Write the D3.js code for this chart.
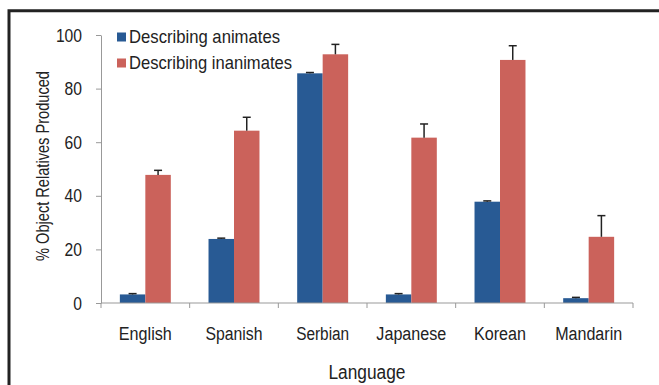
<!DOCTYPE html>
<html><head><meta charset="utf-8">
<script src="https://cdn.jsdelivr.net/npm/d3@7"></script>
<style>body{margin:0;background:#fff}svg{display:block}text{font-family:"Liberation Sans",Arial,sans-serif;fill:#222}</style>
</head><body><svg id="c" width="659" height="385"></svg>
<script>
const categories = ["English","Spanish","Serbian","Japanese","Korean","Mandarin"];
const categoryLabelWidths = [53, 57, 53, 70, 52, 67];
const seriesNames = ["Describing animates","Describing inanimates"];
const animates = [3.2, 23.9, 85.7, 3.2, 37.8, 1.8];
const inanimates = [47.8, 64.3, 92.8, 61.7, 90.7, 24.7];
const animatesErr = [0.3, 0.3, 0.3, 0.3, 0.3, 0.3];
const inanimatesErr = [1.7, 5.0, 3.7, 5.1, 5.3, 7.9];
const yTicks = [0, 20, 40, 60, 80, 100];
const colors = ["#285a94", "#cb625b"];

const svg = d3.select("#c");
const L = 101, R = 633, T = 35, B = 303;
const x0 = d3.scaleBand().domain(categories).range([L, R]).padding(0);
const x1 = d3.scaleBand().domain([0,1]).range([0, x0.bandwidth()]).paddingInner(0).paddingOuter(0.74);
const y = d3.scaleLinear().domain([0,100]).range([B, T]);

// frame
svg.append("path").attr("d","M9,385V10.8H659").attr("fill","none").attr("stroke","#222").attr("stroke-width",3);

// bars
const data = categories.map((c,i)=>({c, vals:[animates[i], inanimates[i]], errs:[animatesErr[i], inanimatesErr[i]]}));
const g = svg.append("g");
data.forEach(d=>{
  d.vals.forEach((v,k)=>{
    const bx = x0(d.c) + x1(k);
    g.append("rect").attr("x", bx).attr("width", x1.bandwidth()).attr("y", y(v)).attr("height", y(0)-y(v)).attr("fill", colors[k]);
    const cx = bx + x1.bandwidth()/2;
    const top = y(v + d.errs[k]);
    g.append("line").attr("x1",cx).attr("x2",cx).attr("y1",y(v)).attr("y2",top).attr("stroke","#222").attr("stroke-width",1.5);
    g.append("line").attr("x1",cx-4).attr("x2",cx+4).attr("y1",top).attr("y2",top).attr("stroke","#222").attr("stroke-width",1.5);
  });
});

// y axis
const ya = svg.append("g").attr("transform",`translate(${L},0)`)
  .call(d3.axisLeft(y).tickValues(yTicks).tickSize(5).tickSizeOuter(0).tickPadding(14));
ya.select(".domain").attr("stroke","#999");
ya.selectAll(".tick line").attr("stroke","#999");
ya.selectAll(".tick text").attr("font-size",19).attr("font-family","Liberation Sans, Arial, sans-serif").attr("fill","#222")
  .attr("textLength", d => String(d).length*8.7).attr("lengthAdjust","spacingAndGlyphs");

// x axis
const xa = svg.append("g").attr("transform",`translate(0,${B})`)
  .call(d3.axisBottom(x0).tickSize(0).tickPadding(24));
xa.select(".domain").attr("stroke","#999").attr("d", `M${L},0H${R}`);
xa.selectAll(".tick text").attr("font-size",18).attr("font-family","Liberation Sans, Arial, sans-serif").attr("fill","#222")
  .attr("textLength", (d,i) => categoryLabelWidths[i]).attr("lengthAdjust","spacingAndGlyphs");
// boundary ticks
const bounds = categories.map(c=>x0(c)).concat([R]);
xa.selectAll(".bt").data(bounds).enter().append("line").attr("class","bt")
  .attr("x1",d=>d).attr("x2",d=>d).attr("y1",0).attr("y2",5).attr("stroke","#999");

// axis titles
svg.append("text").attr("x",(L+R)/2).attr("y",379).attr("text-anchor","middle").attr("font-size",19.5)
  .attr("textLength",77).attr("lengthAdjust","spacingAndGlyphs").text("Language");
svg.append("text").attr("transform",`translate(49,${(T+B)/2 - 3}) rotate(-90)`).attr("text-anchor","middle").attr("font-size",19)
  .attr("textLength",190).attr("lengthAdjust","spacingAndGlyphs").text("% Object Relatives Produced");

// legend
const lg = svg.append("g");
seriesNames.forEach((n,i)=>{
  const yy = 37 + i*26;
  lg.append("rect").attr("x",117).attr("y",yy-4.5).attr("width",9).attr("height",9).attr("fill",colors[i]);
  lg.append("text").attr("x",129).attr("y",yy).attr("dy","0.35em").attr("font-size",18.5)
    .attr("textLength", i===0?151:163).attr("lengthAdjust","spacingAndGlyphs").text(n);
});
</script></body></html>
